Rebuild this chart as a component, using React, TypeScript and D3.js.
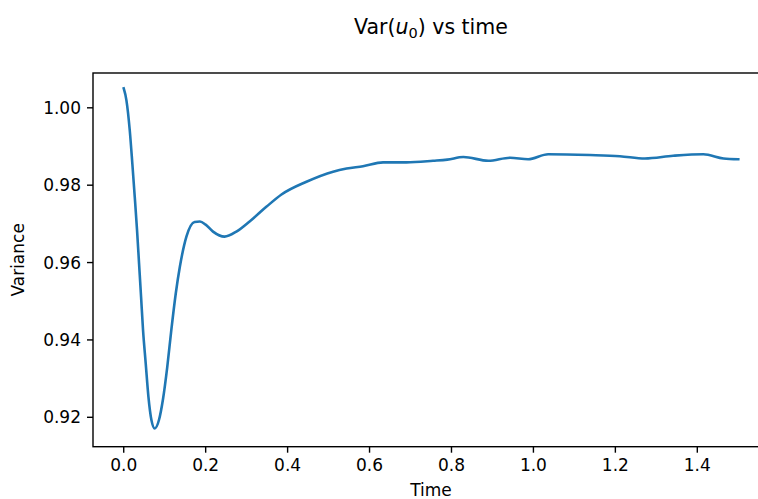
import React from 'react';
import * as d3 from 'd3';

// values
const time = [
  0.0, 0.0065, 0.0147, 0.021, 0.0269, 0.0325, 0.0374, 0.0423, 0.0471, 0.0537, 0.0603, 0.0676,
  0.0757, 0.086, 0.096, 0.106, 0.116, 0.127, 0.137, 0.153, 0.173, 0.186, 0.2,
  0.218, 0.246, 0.275, 0.308, 0.348, 0.385, 0.446, 0.511, 0.544, 0.584, 0.633, 0.69,
  0.755, 0.79, 0.829, 0.89, 0.943, 0.987, 1.036, 1.138, 1.211, 1.272, 1.341, 1.415,
  1.464, 1.5,
];
const variance = [
  1.005, 1.002, 0.9942, 0.9856, 0.977, 0.9684, 0.9598, 0.9512, 0.9426, 0.9339, 0.9253, 0.9193,
  0.9171, 0.9193, 0.9248, 0.9328, 0.9424, 0.952, 0.9589, 0.9667, 0.9705, 0.9706, 0.9698,
  0.968, 0.9667, 0.968, 0.9707, 0.9744, 0.9776, 0.9809, 0.9835, 0.9843, 0.9849, 0.9859, 0.9859,
  0.9863, 0.9866, 0.9873, 0.9863, 0.9871, 0.9867, 0.988, 0.9878, 0.9875, 0.9869, 0.9876, 0.988,
  0.9869, 0.9867,
];
const xTicks = [0, 0.2, 0.4, 0.6, 0.8, 1.0, 1.2, 1.4];
const yTicks = [0.92, 0.94, 0.96, 0.98, 1.0];

const W = 758;
const H = 499;
const left = 93, right = 769, top = 73, bottom = 446.7;
const font = 'DejaVu Sans, sans-serif';

export default function App() {
  const x = d3.scaleLinear().domain([-0.075, 1.575]).range([left, right]);
  const y = d3.scaleLinear().domain([0.9124, 1.009]).range([bottom, top]);

  const points: [number, number][] = time.map((t, i) => [t, variance[i]]);
  const line = d3.line<[number, number]>()
    .x(d => x(d[0]))
    .y(d => y(d[1]))
    .curve(d3.curveMonotoneX);

  const fx = d3.format('.1f');
  const fy = d3.format('.2f');

  return (
    <svg width={W} height={H} style={{ position: 'absolute', left: 0, top: 0, background: '#fff' }}
      fontFamily={font}>
      <rect x={0} y={0} width={W} height={H} fill="#fff" />
      <defs>
        <clipPath id="plot">
          <rect x={left} y={top} width={right - left} height={bottom - top} />
        </clipPath>
      </defs>

      <path d={line(points) ?? ''} fill="none" stroke="#1f77b4" strokeWidth={2.6}
        strokeLinejoin="round" strokeLinecap="square" clipPath="url(#plot)" />

      {/* spines */}
      <rect x={left} y={top} width={right - left} height={bottom - top}
        fill="none" stroke="#000" strokeWidth={1.4} />

      {/* x axis */}
      {xTicks.map(t => (
        <g key={'x' + t}>
          <line x1={x(t)} x2={x(t)} y1={bottom} y2={bottom + 6} stroke="#000" strokeWidth={1.4} />
          <text x={x(t)} y={bottom + 24.5} fontSize={17} textAnchor="middle" fill="#000">{fx(t)}</text>
        </g>
      ))}
      <text x={(left + right) / 2} y={496} fontSize={17} textAnchor="middle" fill="#000">Time</text>

      {/* y axis */}
      {yTicks.map(t => (
        <g key={'y' + t}>
          <line x1={left - 6} x2={left} y1={y(t)} y2={y(t)} stroke="#000" strokeWidth={1.4} />
          <text x={left - 12} y={y(t)} dy="0.36em" fontSize={17} textAnchor="end" fill="#000">{fy(t)}</text>
        </g>
      ))}
      <text transform={`translate(24,${(top + bottom) / 2}) rotate(-90)`} fontSize={17}
        textAnchor="middle" fill="#000">Variance</text>

      {/* title */}
      <text x={(left + right) / 2} y={34} fontSize={20.5} textAnchor="middle" fill="#000">
        <tspan>Var(</tspan>
        <tspan fontStyle="italic">u</tspan>
        <tspan fontSize={14.5} dy={4}>0</tspan>
        <tspan dy={-4}>) vs time</tspan>
      </text>
    </svg>
  );
}
